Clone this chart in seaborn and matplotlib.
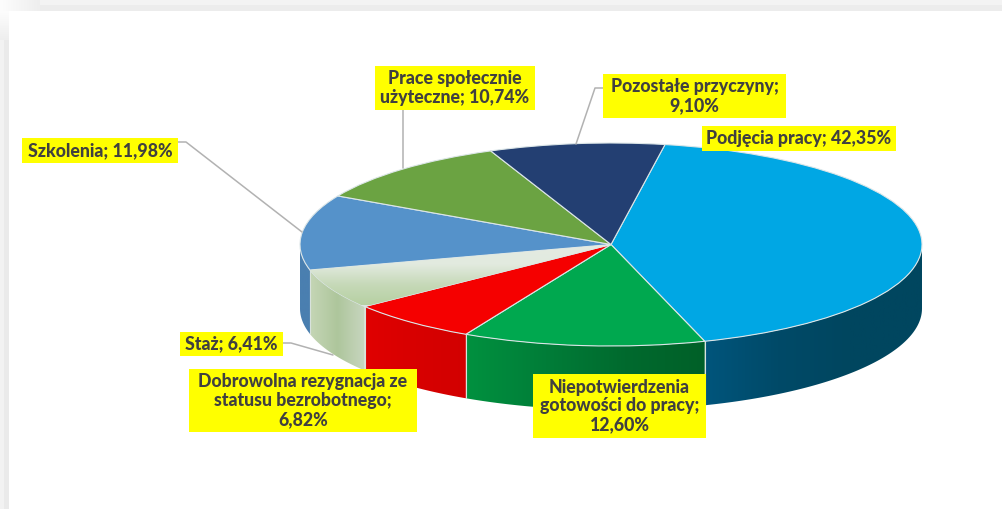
# Reasons for leaving the unemployment register, drawn as a tilted 3D pie
import numpy as np
import matplotlib
matplotlib.use("Agg")
import matplotlib.pyplot as plt
from matplotlib.colors import LinearSegmentedColormap
from matplotlib.patches import Rectangle, Polygon
from matplotlib.transforms import Affine2D
import seaborn as sns

# Data
categories = ["Podjęcia pracy", "Niepotwierdzenia\ngotowości do pracy",
              "Dobrowolna rezygnacja ze\nstatusu bezrobotnego", "Staż", "Szkolenia",
              "Prace społecznie\nużyteczne", "Pozostałe przyczyny"]
values = [42.35, 12.60, 6.82, 6.41, 11.98, 10.74, 9.10]
separators = ["; ", ";\n", ";\n", "; ", "; ", "; ", ";\n"]

# Style
top_colors = ["#00a7e4", "#00a84f", "#f50000", "#dde7d8", "#5592ca", "#6ba342", "#233f72"]
wall_stops = [["#00465f", "#00465f", "#004a68", "#00557c"],
              ["#006028", "#006a2e", "#007d38", "#00913f"],
              ["#d20000", "#d80000", "#e00000"],
              ["#c8d6c0", "#aec69c", "#c5d6b6"],
              ["#4a7fb0", "#4a7fb0"],
              ["#5a8a38", "#5a8a38"],
              ["#1d3560", "#1d3560"]]
staz_gradient = ["#b6d0a2", "#c6d9b8", "#e2eadf", "#e4ebe2"]
text_color = "#404040"
line_color = "#b2b2b2"

# Layout in reference pixels: box x0, y0, x1, y1
boxes = [(702, 126, 896, 151), (533, 374, 706, 438), (189, 369, 417, 432), (180, 332, 283, 356),
         (22, 138, 178, 163), (375, 66, 535, 110), (603, 74, 786, 118)]
leaders = [None, None, None,
           [(283, 343), (291, 343), (333, 355)],
           [(178, 142), (186, 142), (302, 232)],
           [(403, 110), (403, 168)],
           [(603, 88), (595, 88), (576, 144)]]
W, H = 1003, 509
cx, cy, rx, ry, depth_px = 611, 244.5, 311, 101.5, 64

sns.set_theme(style="white")
plt.rcParams["font.family"] = ["Lato", "DejaVu Sans"]

fig = plt.figure(figsize=(W / 100, H / 100), dpi=100, facecolor="white")
ax = fig.add_axes([0, 0, 1, 1])
px = Affine2D().scale(1, -1).translate(0, H)


def dx(x):
    return (x - cx) / rx


def dy(y):
    return (cy - y) / ry


# Page frame behind the chart, fading out towards the top left corner
ax.add_patch(Rectangle((40, 0), W - 40, 5, transform=px, color="#f3f3f3", lw=0, zorder=0))
ax.add_patch(Rectangle((40, 5), W - 40, 6, transform=px, color="#ececec", lw=0, zorder=0))
ax.add_patch(Rectangle((0, 40), 4, H - 40, transform=px, color="#f2f2f2", lw=0, zorder=0))
ax.add_patch(Rectangle((4, 40), 5, H - 40, transform=px, color="#eaeaea", lw=0, zorder=0))
fade = LinearSegmentedColormap.from_list("fade", ["#fdfdfd", "#eeeeee"])
ax.imshow(np.linspace(0, 1, 64).reshape(1, -1), cmap=fade, aspect="auto", zorder=0,
          extent=(dx(0), dx(40), dy(11), dy(0)))
ax.imshow(np.linspace(0, 1, 64).reshape(-1, 1), cmap=fade, aspect="auto", zorder=0, origin="upper",
          extent=(dx(0), dx(9), dy(40), dy(11)))

# Top face
wedges, _ = ax.pie(values, colors=sns.color_palette(top_colors), startangle=80, counterclock=False,
                   wedgeprops={"edgecolor": "#dce6e8", "linewidth": 0.8})
for w in wedges:
    w.set_zorder(3)

# Angles of the slice borders
edges = 80 - np.cumsum([0] + values) * 3.6
depth = depth_px / ry

# Side wall, slice by slice
for i in range(len(values)):
    t1 = max(edges[i + 1], -180)
    t0 = min(edges[i], 0)
    if t1 >= t0:
        continue
    t = np.radians(np.linspace(t0, t1, 80))
    outline = np.r_[np.c_[np.cos(t), np.sin(t)], np.c_[np.cos(t[::-1]), np.sin(t[::-1]) - depth]]
    cmap = LinearSegmentedColormap.from_list("wall%d" % i, wall_stops[i][::-1])
    im = ax.imshow(np.linspace(0, 1, 256).reshape(1, -1), cmap=cmap, aspect="auto", zorder=2,
                   extent=(np.cos(t).min(), np.cos(t).max(), -2, 1))
    clip = Polygon(outline, closed=True, transform=ax.transData, facecolor="none", edgecolor="none")
    ax.add_patch(clip)
    im.set_clip_path(clip)
    # divider between two slices
    if i < len(values) - 1 and -180 < edges[i + 1] < 0:
        a = np.radians(edges[i + 1])
        ax.plot([np.cos(a)] * 2, [np.sin(a), np.sin(a) - depth], color="#d8e2dc", lw=0.8, zorder=2.5)

# Staz top has its own soft gradient
staz_cmap = LinearSegmentedColormap.from_list("staz", staz_gradient)
im = ax.imshow(np.linspace(0, 1, 256).reshape(-1, 1), cmap=staz_cmap, aspect="auto", zorder=3.1,
               origin="lower", extent=(-1.1, 0, -0.6, 0))
im.set_clip_path(wedges[3])

ax.set_aspect("auto")
ax.set_xlim(-cx / rx, (W - cx) / rx)
ax.set_ylim((cy - H) / ry, cy / ry)

# Leader lines and yellow labels
for i, name in enumerate(categories):
    if leaders[i]:
        xs, ys = zip(*leaders[i])
        ax.plot(xs, ys, color=line_color, lw=1.1, transform=px, zorder=4, scalex=False, scaley=False)
    x0, y0, x1, y1 = boxes[i]
    ax.add_patch(Rectangle((x0, y0), x1 - x0, y1 - y0, transform=px, color="#ffff00", lw=0, zorder=5))
    label = name + separators[i] + ("%.2f%%" % values[i]).replace(".", ",")
    ax.text((x0 + x1) / 2, (y0 + y1) / 2, label, transform=px, ha="center", va="center",
            ma="center", fontsize=12.8, fontweight=900, color=text_color, linespacing=1.13, zorder=6)

fig.savefig("out.png", dpi=100)
